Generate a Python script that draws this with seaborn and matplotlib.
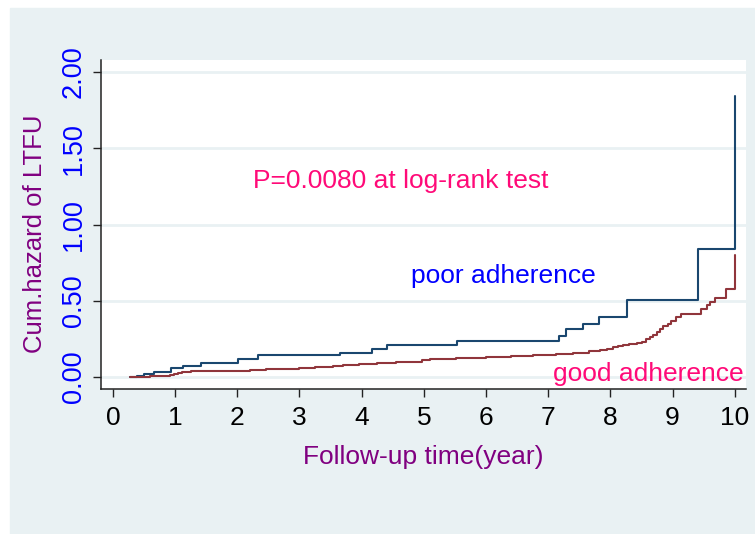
import matplotlib
matplotlib.use('agg')
import matplotlib.pyplot as plt
import matplotlib.patches as mpatches
import pandas as pd
import seaborn as sns

# cumulative hazard estimates
poor_time = [0.27, 0.39, 0.5, 0.66, 0.93, 1.13, 1.42, 2.01, 2.34, 3.66, 4.17, 4.41,
             5.53, 7.18, 7.28, 7.56, 7.81, 8.26, 9.41, 10.0]
poor_haz = [0.0, 0.008, 0.017, 0.033, 0.057, 0.074, 0.092, 0.116, 0.145, 0.16, 0.184, 0.21,
            0.239, 0.27, 0.313, 0.349, 0.393, 0.507, 0.84, 1.84]

good_time = [0.27, 0.6, 0.85, 0.92, 0.98, 1.05, 1.12, 1.25, 1.6, 1.93, 2.2, 2.47, 2.75,
             3.0, 3.25, 3.54, 3.7, 3.95, 4.24, 4.55, 4.82, 4.97, 5.1, 5.52, 6.0, 6.4,
             6.76, 7.13, 7.4, 7.65, 7.83, 7.95, 8.04, 8.12, 8.2, 8.3, 8.42, 8.5, 8.58,
             8.64, 8.69, 8.75, 8.8, 8.85, 8.92, 8.98, 9.05, 9.14, 9.46, 9.55, 9.6,
             9.68, 9.86, 10.0]
good_haz = [0.0, 0.004, 0.009, 0.014, 0.02, 0.026, 0.031, 0.036, 0.038, 0.042, 0.046,
            0.05, 0.053, 0.057, 0.063, 0.072, 0.08, 0.084, 0.09, 0.095, 0.1, 0.108,
            0.117, 0.127, 0.134, 0.138, 0.143, 0.151, 0.16, 0.168, 0.178, 0.186,
            0.195, 0.203, 0.21, 0.215, 0.22, 0.232, 0.248, 0.262, 0.276, 0.295,
            0.312, 0.331, 0.35, 0.364, 0.39, 0.414, 0.447, 0.47, 0.489, 0.518,
            0.577, 0.80]

y_ticks = [0, 0.5, 1.0, 1.5, 2.0]
y_ticklabels = ['0.00', '0.50', '1.00', '1.50', '2.00']
x_ticks = list(range(0, 11))

bg = '#e9f1f3'
navy = '#1a476f'
maroon = '#90353b'
pink = '#ff0a78'
purple = '#800080'

df = pd.DataFrame({
    'time': poor_time + good_time,
    'haz': poor_haz + good_haz,
    'group': ['poor'] * len(poor_time) + ['good'] * len(good_time),
})

sns.set_style('white')
plt.rcParams['font.family'] = ['Liberation Sans', 'DejaVu Sans']

fig = plt.figure(figsize=(7.55, 5.34), dpi=100)
fig.patches.append(mpatches.Rectangle((10 / 755, 0), 745 / 755, 526 / 534,
                                      transform=fig.transFigure, color=bg, zorder=-10))
ax = fig.add_axes([101 / 755, 1 - 389 / 534, 645 / 755, 329 / 534])
ax.set_facecolor('white')

sns.lineplot(data=df, x='time', y='haz', hue='group', palette={'poor': navy, 'good': maroon},
             drawstyle='steps-post', estimator=None, linewidth=1.5, legend=False, ax=ax)

ax.set_xlim(-0.19, 10.18)
ax.set_ylim(-0.079, 2.079)
ax.set_yticks(y_ticks)
ax.set_yticklabels(y_ticklabels)
ax.set_xticks(x_ticks)
for y in y_ticks:
    ax.axhline(y, color=bg, lw=2, zorder=0)

for s in ['top', 'right']:
    ax.spines[s].set_visible(False)
for s in ['left', 'bottom']:
    ax.spines[s].set_color('#222222')
    ax.spines[s].set_linewidth(1.1)

ax.tick_params(axis='y', direction='out', length=6, width=1, color='#222222',
               labelrotation=90, labelsize=19.5, labelcolor='#0000ff', pad=4, left=True)
ax.tick_params(axis='x', direction='out', length=6, width=1, color='#222222',
               labelsize=19, labelcolor='black', pad=6, bottom=True)
for lab in ax.get_yticklabels():
    lab.set_va('center')

ax.set_xlabel('Follow-up time(year)', fontsize=19, color=purple, labelpad=11)
ax.set_ylabel('Cum.hazard of LTFU', fontsize=18.5, color=purple)
ax.yaxis.label.set_va('center')
ax.yaxis.set_label_coords(-0.102, 0.471)

ax.text(2.25, 1.237, 'P=0.0080 at log-rank test', color=pink, fontsize=19, va='baseline')
ax.text(4.80, 0.618, 'poor adherence', color='#0000ff', fontsize=19, va='baseline')
ax.text(7.08, -0.028, 'good adherence', color=pink, fontsize=19, va='baseline')

fig.savefig('out.png', dpi=100, facecolor='white')
